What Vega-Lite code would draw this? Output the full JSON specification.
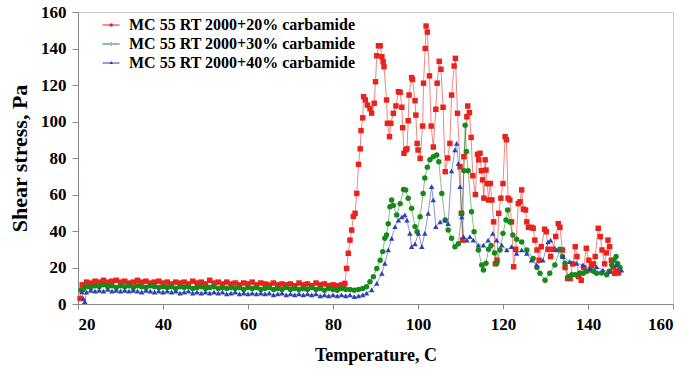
{
"$schema":"https://vega.github.io/schema/vega-lite/v6.json",
"width":595,"height":292,
"autosize":"none",
"padding":{"left":78,"top":12,"right":15,"bottom":68},
"background":"white",
"config":{"view":{"stroke":"#c8c8c8","strokeWidth":1},"font":"Liberation Serif"},
"data":{"values":[
{"s":"a","t":20.5,"v":3},{"s":"a","t":21,"v":10.5},{"s":"a","t":22,"v":12},{"s":"a","t":23,"v":11.5},{"s":"a","t":24,"v":12.5},{"s":"a","t":25,"v":12},{"s":"a","t":26,"v":13},{"s":"a","t":27,"v":12},{"s":"a","t":28,"v":12.5},{"s":"a","t":29,"v":13},{"s":"a","t":30,"v":12},{"s":"a","t":31,"v":12.5},{"s":"a","t":32,"v":11.5},{"s":"a","t":33,"v":12},{"s":"a","t":34,"v":13},{"s":"a","t":35,"v":12},{"s":"a","t":36,"v":12.5},{"s":"a","t":37,"v":11.5},{"s":"a","t":38,"v":12},{"s":"a","t":39,"v":12.5},{"s":"a","t":40,"v":11.5},{"s":"a","t":41,"v":12},{"s":"a","t":42,"v":11},{"s":"a","t":43,"v":12},{"s":"a","t":44,"v":11.5},{"s":"a","t":45,"v":12},{"s":"a","t":46,"v":11},{"s":"a","t":47,"v":12.5},{"s":"a","t":48,"v":11.5},{"s":"a","t":49,"v":12},{"s":"a","t":50,"v":11},{"s":"a","t":51,"v":13},{"s":"a","t":52,"v":11.5},{"s":"a","t":53,"v":12},{"s":"a","t":54,"v":11},{"s":"a","t":55,"v":12},{"s":"a","t":56,"v":11},{"s":"a","t":57,"v":11.5},{"s":"a","t":58,"v":10.5},{"s":"a","t":59,"v":11.5},{"s":"a","t":60,"v":11},{"s":"a","t":61,"v":12},{"s":"a","t":62,"v":10.5},{"s":"a","t":63,"v":11.5},{"s":"a","t":64,"v":11},{"s":"a","t":65,"v":10.5},{"s":"a","t":66,"v":11.5},{"s":"a","t":67,"v":10.5},{"s":"a","t":68,"v":11},{"s":"a","t":69,"v":10.5},{"s":"a","t":70,"v":11},{"s":"a","t":71,"v":10},{"s":"a","t":72,"v":11.5},{"s":"a","t":73,"v":10.5},{"s":"a","t":74,"v":11},{"s":"a","t":75,"v":10},{"s":"a","t":76,"v":11.5},{"s":"a","t":77,"v":10.5},{"s":"a","t":78,"v":11},{"s":"a","t":79,"v":10},{"s":"a","t":80,"v":10.5},{"s":"a","t":81,"v":10},{"s":"a","t":82,"v":10.5},{"s":"a","t":82.5,"v":10},
{"s":"a","t":82.8,"v":11.3},{"s":"a","t":83.2,"v":19.5},{"s":"a","t":83.6,"v":27.8},{"s":"a","t":84,"v":35},{"s":"a","t":84.4,"v":40.5},{"s":"a","t":84.8,"v":48},{"s":"a","t":85.2,"v":49.7},{"s":"a","t":85.6,"v":60.6},{"s":"a","t":86,"v":76.5},{"s":"a","t":86.4,"v":85},{"s":"a","t":86.6,"v":95},{"s":"a","t":87,"v":102},{"s":"a","t":87.2,"v":113.6},{"s":"a","t":87.6,"v":111.8},{"s":"a","t":88.1,"v":109},{"s":"a","t":88.7,"v":107},{"s":"a","t":89.1,"v":104.6},{"s":"a","t":89.7,"v":110},{"s":"a","t":90,"v":121.8},{"s":"a","t":90.3,"v":136},{"s":"a","t":90.7,"v":141.5},{"s":"a","t":91.1,"v":141.5},{"s":"a","t":91.5,"v":135.5},{"s":"a","t":91.8,"v":132.8},{"s":"a","t":92,"v":130},{"s":"a","t":92.6,"v":111.8},{"s":"a","t":92.8,"v":99},{"s":"a","t":93.3,"v":91.7},{"s":"a","t":93.6,"v":99},{"s":"a","t":94.2,"v":104.5},{"s":"a","t":94.8,"v":108.5},{"s":"a","t":95.4,"v":116.3},{"s":"a","t":95.8,"v":116},{"s":"a","t":96.2,"v":107.8},{"s":"a","t":96.4,"v":96.6},{"s":"a","t":96.7,"v":82.6},{"s":"a","t":97.1,"v":84.4},{"s":"a","t":97.4,"v":85},{"s":"a","t":97.7,"v":100.4},{"s":"a","t":97.9,"v":114.5},{"s":"a","t":98.5,"v":124},{"s":"a","t":98.7,"v":123},{"s":"a","t":99.3,"v":111.4},{"s":"a","t":99.5,"v":103.5},{"s":"a","t":99.8,"v":88},{"s":"a","t":100,"v":84.4},{"s":"a","t":100.5,"v":79.8},{"s":"a","t":101.1,"v":97.5},{"s":"a","t":101.3,"v":121},{"s":"a","t":101.7,"v":140},{"s":"a","t":101.9,"v":152.3},{"s":"a","t":102.2,"v":149},{"s":"a","t":102.7,"v":125},{"s":"a","t":103.1,"v":97.5},{"s":"a","t":103.6,"v":86},{"s":"a","t":104.2,"v":106.7},{"s":"a","t":104.5,"v":121},{"s":"a","t":105,"v":133},{"s":"a","t":105.4,"v":128.6},{"s":"a","t":105.9,"v":107.8},{"s":"a","t":106.4,"v":72.5},{"s":"a","t":107,"v":80},{"s":"a","t":107.5,"v":88},{"s":"a","t":107.9,"v":114.5},{"s":"a","t":108.5,"v":130.4},{"s":"a","t":108.8,"v":134.6},{"s":"a","t":109.3,"v":104.5},{"s":"a","t":109.9,"v":75.2},{"s":"a","t":110.2,"v":49.7},{"s":"a","t":110.5,"v":35},{"s":"a","t":110.8,"v":80.7},{"s":"a","t":111.5,"v":102.6},{"s":"a","t":111.7,"v":108.5},{"s":"a","t":112.1,"v":104.8},{"s":"a","t":112.5,"v":91.3},{"s":"a","t":112.9,"v":70.3},{"s":"a","t":113.5,"v":60},{"s":"a","t":114,"v":82},{"s":"a","t":114.3,"v":79},{"s":"a","t":114.6,"v":82.6},{"s":"a","t":114.9,"v":73},{"s":"a","t":115.2,"v":68},{"s":"a","t":115.5,"v":58},{"s":"a","t":115.8,"v":79},{"s":"a","t":116,"v":73.4},{"s":"a","t":116.3,"v":66},{"s":"a","t":116.6,"v":57},{"s":"a","t":117,"v":66},{"s":"a","t":117.4,"v":57},{"s":"a","t":117.8,"v":45},{"s":"a","t":118.2,"v":22},{"s":"a","t":118.6,"v":24},{"s":"a","t":119,"v":49.7},{"s":"a","t":119.5,"v":58},{"s":"a","t":120,"v":66},{"s":"a","t":120.5,"v":91.7},{"s":"a","t":120.8,"v":90},{"s":"a","t":121.2,"v":58},{"s":"a","t":121.6,"v":57},{"s":"a","t":122,"v":45},{"s":"a","t":122.5,"v":20.4},{"s":"a","t":123,"v":30},{"s":"a","t":123.6,"v":55},{"s":"a","t":124,"v":56},{"s":"a","t":124.4,"v":62.5},{"s":"a","t":124.8,"v":52},{"s":"a","t":125.3,"v":51.5},{"s":"a","t":125.6,"v":45},{"s":"a","t":126,"v":42},{"s":"a","t":126.7,"v":42},{"s":"a","t":127.1,"v":41.5},{"s":"a","t":127.5,"v":35},{"s":"a","t":128,"v":29.6},{"s":"a","t":128.5,"v":24},{"s":"a","t":129,"v":31.4},{"s":"a","t":129.8,"v":41},{"s":"a","t":130.2,"v":39.6},{"s":"a","t":130.6,"v":30},{"s":"a","t":131.2,"v":26},{"s":"a","t":131.8,"v":30},{"s":"a","t":132.4,"v":37},{"s":"a","t":133,"v":44},{"s":"a","t":133.4,"v":42},{"s":"a","t":134,"v":29.6},{"s":"a","t":134.6,"v":20},{"s":"a","t":135.2,"v":14},{"s":"a","t":135.8,"v":14},{"s":"a","t":136.4,"v":22},{"s":"a","t":137,"v":31.4},{"s":"a","t":137.4,"v":26},{"s":"a","t":137.8,"v":15},{"s":"a","t":138.4,"v":13},{"s":"a","t":139,"v":20},{"s":"a","t":139.6,"v":30.5},{"s":"a","t":140.2,"v":24},{"s":"a","t":140.8,"v":21},{"s":"a","t":141.3,"v":22},{"s":"a","t":141.7,"v":26},{"s":"a","t":142.4,"v":41.5},{"s":"a","t":142.9,"v":36.9},{"s":"a","t":143.3,"v":29.6},{"s":"a","t":143.9,"v":22},{"s":"a","t":144.3,"v":28},{"s":"a","t":144.7,"v":35},{"s":"a","t":145.1,"v":31.4},{"s":"a","t":145.5,"v":24},{"s":"a","t":146,"v":20},{"s":"a","t":146.3,"v":16.8},{"s":"a","t":146.8,"v":18},{"s":"a","t":147.2,"v":17},
{"s":"b","t":20.7,"v":7.7},{"s":"b","t":21.2,"v":8},{"s":"b","t":22,"v":9.5},{"s":"b","t":23,"v":9},{"s":"b","t":24,"v":10},{"s":"b","t":25,"v":9.5},{"s":"b","t":26,"v":10.5},{"s":"b","t":27,"v":9.5},{"s":"b","t":28,"v":10},{"s":"b","t":29,"v":9},{"s":"b","t":30,"v":10},{"s":"b","t":31,"v":9.5},{"s":"b","t":32,"v":10},{"s":"b","t":33,"v":9},{"s":"b","t":34,"v":10},{"s":"b","t":35,"v":9.5},{"s":"b","t":36,"v":9},{"s":"b","t":37,"v":10},{"s":"b","t":38,"v":9.5},{"s":"b","t":39,"v":9},{"s":"b","t":40,"v":9.5},{"s":"b","t":41,"v":9},{"s":"b","t":42,"v":9.5},{"s":"b","t":43,"v":8.5},{"s":"b","t":44,"v":9.5},{"s":"b","t":45,"v":9},{"s":"b","t":46,"v":9.5},{"s":"b","t":47,"v":8.5},{"s":"b","t":48,"v":9},{"s":"b","t":49,"v":9.5},{"s":"b","t":50,"v":8.5},{"s":"b","t":51,"v":9},{"s":"b","t":52,"v":9.5},{"s":"b","t":53,"v":8.5},{"s":"b","t":54,"v":9},{"s":"b","t":55,"v":8.5},{"s":"b","t":56,"v":9},{"s":"b","t":57,"v":8.5},{"s":"b","t":58,"v":9},{"s":"b","t":59,"v":8},{"s":"b","t":60,"v":9},{"s":"b","t":61,"v":8.5},{"s":"b","t":62,"v":9},{"s":"b","t":63,"v":8},{"s":"b","t":64,"v":8.5},{"s":"b","t":65,"v":9},{"s":"b","t":66,"v":8},{"s":"b","t":67,"v":8.5},{"s":"b","t":68,"v":8},{"s":"b","t":69,"v":9},{"s":"b","t":70,"v":8},{"s":"b","t":71,"v":8.5},{"s":"b","t":72,"v":8},{"s":"b","t":73,"v":8.5},{"s":"b","t":74,"v":8},{"s":"b","t":75,"v":9},{"s":"b","t":76,"v":8},{"s":"b","t":77,"v":8.5},{"s":"b","t":78,"v":7.5},{"s":"b","t":79,"v":8.5},{"s":"b","t":80,"v":8},{"s":"b","t":81,"v":7.5},{"s":"b","t":82,"v":8.5},{"s":"b","t":83,"v":8},{"s":"b","t":84,"v":8},{"s":"b","t":85,"v":7.5},{"s":"b","t":86,"v":8},{"s":"b","t":87,"v":8.5},
{"s":"b","t":87.9,"v":9.5},{"s":"b","t":88.7,"v":12.2},{"s":"b","t":89.5,"v":15},{"s":"b","t":90.3,"v":19.5},{"s":"b","t":91.1,"v":24},{"s":"b","t":91.7,"v":28.7},{"s":"b","t":92.2,"v":36},{"s":"b","t":92.6,"v":37.8},{"s":"b","t":93,"v":44},{"s":"b","t":93.4,"v":53.3},{"s":"b","t":93.8,"v":57},{"s":"b","t":94.2,"v":54},{"s":"b","t":95,"v":48.8},{"s":"b","t":95.8,"v":55},{"s":"b","t":96.6,"v":62.8},{"s":"b","t":97.1,"v":62.5},{"s":"b","t":97.7,"v":58},{"s":"b","t":98.5,"v":52.4},{"s":"b","t":99.3,"v":42.4},{"s":"b","t":99.8,"v":39.6},{"s":"b","t":100.5,"v":47.8},{"s":"b","t":101.2,"v":60.6},{"s":"b","t":101.6,"v":69},{"s":"b","t":102.2,"v":75},{"s":"b","t":102.8,"v":79},{"s":"b","t":103.6,"v":80.7},{"s":"b","t":104.4,"v":81.6},{"s":"b","t":104.9,"v":78},{"s":"b","t":105.6,"v":60.6},{"s":"b","t":106.4,"v":46},{"s":"b","t":107.1,"v":40.5},{"s":"b","t":107.9,"v":36},{"s":"b","t":108.7,"v":31.4},{"s":"b","t":109.5,"v":33},{"s":"b","t":110.3,"v":49.7},{"s":"b","t":110.8,"v":73},{"s":"b","t":111.1,"v":98},{"s":"b","t":111.4,"v":83.5},{"s":"b","t":111.8,"v":73},{"s":"b","t":112.6,"v":50.6},{"s":"b","t":113.2,"v":39.6},{"s":"b","t":114.2,"v":29.6},{"s":"b","t":115,"v":21.4},{"s":"b","t":115.4,"v":18.6},{"s":"b","t":116,"v":22.3},{"s":"b","t":116.6,"v":30},{"s":"b","t":117.2,"v":32},{"s":"b","t":118,"v":28},{"s":"b","t":118.5,"v":22.3},{"s":"b","t":119.3,"v":29.6},{"s":"b","t":120,"v":38.7},{"s":"b","t":120.7,"v":46},{"s":"b","t":121.1,"v":51.5},{"s":"b","t":121.6,"v":45},{"s":"b","t":122.3,"v":37.8},{"s":"b","t":123.2,"v":35.5},{"s":"b","t":124.4,"v":34},{"s":"b","t":125.6,"v":29.6},{"s":"b","t":127.1,"v":25},{"s":"b","t":128,"v":20},{"s":"b","t":128.7,"v":16.8},{"s":"b","t":129.9,"v":13},{"s":"b","t":131,"v":16.8},{"s":"b","t":132.2,"v":21.4},{"s":"b","t":133.4,"v":30},{"s":"b","t":134,"v":26},{"s":"b","t":134.6,"v":22.3},{"s":"b","t":135.4,"v":15},{"s":"b","t":136.2,"v":16},{"s":"b","t":137,"v":16},{"s":"b","t":138,"v":17},{"s":"b","t":138.9,"v":16.8},{"s":"b","t":139.7,"v":18},{"s":"b","t":140.5,"v":18.6},{"s":"b","t":141.3,"v":18},{"s":"b","t":142,"v":16.8},{"s":"b","t":143.2,"v":17},{"s":"b","t":144.4,"v":16},{"s":"b","t":145,"v":18},{"s":"b","t":145.6,"v":21.4},{"s":"b","t":146.1,"v":24},{"s":"b","t":146.6,"v":26},{"s":"b","t":147,"v":22},{"s":"b","t":147.5,"v":20},
{"s":"c","t":20.9,"v":6.7},{"s":"c","t":21.3,"v":3},{"s":"c","t":21.6,"v":1.3},{"s":"c","t":22,"v":6.5},{"s":"c","t":23,"v":7.5},{"s":"c","t":24,"v":7},{"s":"c","t":25,"v":7.5},{"s":"c","t":26,"v":7},{"s":"c","t":27,"v":8},{"s":"c","t":28,"v":7},{"s":"c","t":29,"v":7.5},{"s":"c","t":30,"v":7},{"s":"c","t":31,"v":7.5},{"s":"c","t":32,"v":7},{"s":"c","t":33,"v":7.5},{"s":"c","t":34,"v":7},{"s":"c","t":35,"v":6.5},{"s":"c","t":36,"v":7.5},{"s":"c","t":37,"v":7},{"s":"c","t":38,"v":6.5},{"s":"c","t":39,"v":7},{"s":"c","t":40,"v":6.5},{"s":"c","t":41,"v":7},{"s":"c","t":42,"v":6.5},{"s":"c","t":43,"v":7},{"s":"c","t":44,"v":6},{"s":"c","t":45,"v":6.5},{"s":"c","t":46,"v":7},{"s":"c","t":47,"v":6},{"s":"c","t":48,"v":6.5},{"s":"c","t":49,"v":6},{"s":"c","t":50,"v":6.5},{"s":"c","t":51,"v":6},{"s":"c","t":52,"v":6.5},{"s":"c","t":53,"v":6},{"s":"c","t":54,"v":6.5},{"s":"c","t":55,"v":5.5},{"s":"c","t":56,"v":6},{"s":"c","t":57,"v":6.5},{"s":"c","t":58,"v":5.5},{"s":"c","t":59,"v":6},{"s":"c","t":60,"v":5.5},{"s":"c","t":61,"v":6},{"s":"c","t":62,"v":5.5},{"s":"c","t":63,"v":6},{"s":"c","t":64,"v":5.5},{"s":"c","t":65,"v":6},{"s":"c","t":66,"v":5},{"s":"c","t":67,"v":5.5},{"s":"c","t":68,"v":6},{"s":"c","t":69,"v":5},{"s":"c","t":70,"v":5.5},{"s":"c","t":71,"v":5},{"s":"c","t":72,"v":5.5},{"s":"c","t":73,"v":5},{"s":"c","t":74,"v":5.5},{"s":"c","t":75,"v":5},{"s":"c","t":76,"v":5.5},{"s":"c","t":77,"v":4.5},{"s":"c","t":78,"v":5},{"s":"c","t":79,"v":4.5},{"s":"c","t":80,"v":5},{"s":"c","t":81,"v":4.5},{"s":"c","t":82,"v":5},{"s":"c","t":83,"v":4.5},{"s":"c","t":84,"v":5},{"s":"c","t":85,"v":4},{"s":"c","t":86,"v":4.5},{"s":"c","t":87,"v":5},
{"s":"c","t":87.9,"v":5.9},{"s":"c","t":89.1,"v":7.7},{"s":"c","t":90.3,"v":11.3},{"s":"c","t":91.5,"v":16.8},{"s":"c","t":92.2,"v":22.3},{"s":"c","t":93,"v":29.6},{"s":"c","t":93.8,"v":36},{"s":"c","t":94.6,"v":42.4},{"s":"c","t":95.4,"v":46},{"s":"c","t":96.2,"v":47.8},{"s":"c","t":96.9,"v":48.8},{"s":"c","t":97.4,"v":46},{"s":"c","t":98.1,"v":38.7},{"s":"c","t":98.5,"v":31.4},{"s":"c","t":99.3,"v":33},{"s":"c","t":100.1,"v":38.7},{"s":"c","t":100.9,"v":31.4},{"s":"c","t":101.6,"v":38.7},{"s":"c","t":102.4,"v":49.7},{"s":"c","t":103.2,"v":64.3},{"s":"c","t":103.6,"v":57},{"s":"c","t":104.2,"v":42.4},{"s":"c","t":105.2,"v":45},{"s":"c","t":106.4,"v":46},{"s":"c","t":107.1,"v":44},{"s":"c","t":107.9,"v":73},{"s":"c","t":108.7,"v":84.4},{"s":"c","t":109.1,"v":88},{"s":"c","t":109.5,"v":77},{"s":"c","t":109.9,"v":64.3},{"s":"c","t":110.3,"v":47.8},{"s":"c","t":110.7,"v":36.9},{"s":"c","t":111.5,"v":35},{"s":"c","t":112.2,"v":36.9},{"s":"c","t":113,"v":35},{"s":"c","t":114.2,"v":32.3},{"s":"c","t":115.4,"v":32.3},{"s":"c","t":116.5,"v":35},{"s":"c","t":117.6,"v":38.7},{"s":"c","t":118.5,"v":35},{"s":"c","t":119.7,"v":32.3},{"s":"c","t":120.9,"v":29.6},{"s":"c","t":122,"v":31.4},{"s":"c","t":123.2,"v":27.8},{"s":"c","t":124.4,"v":29.6},{"s":"c","t":125.6,"v":27.8},{"s":"c","t":126.7,"v":24},{"s":"c","t":127.9,"v":21.4},{"s":"c","t":129.4,"v":24},{"s":"c","t":130.6,"v":34},{"s":"c","t":131.2,"v":35},{"s":"c","t":132.6,"v":29.6},{"s":"c","t":134.1,"v":26},{"s":"c","t":135.7,"v":23.2},{"s":"c","t":137.3,"v":22.3},{"s":"c","t":138.8,"v":21.4},{"s":"c","t":140.4,"v":19.5},{"s":"c","t":142,"v":20.4},{"s":"c","t":143.5,"v":18.6},{"s":"c","t":145.1,"v":17.7},{"s":"c","t":146.7,"v":21.4},{"s":"c","t":147.9,"v":18.6}
]},
"encoding":{
"x":{"field":"t","type":"quantitative","scale":{"domain":[20,160],"nice":false,"zero":false},
"axis":{"values":[20,40,60,80,100,120,140,160],"grid":false,"title":"Temperature, C","titleFont":"Liberation Serif","titleFontSize":18,"titleFontWeight":"bold","titleColor":"black","titlePadding":14,"labelFont":"Liberation Serif","labelFontSize":17,"labelFontWeight":"bold","labelColor":"black","labelPadding":7,"tickSize":5,"tickColor":"#888","domainColor":"#888"}},
"y":{"field":"v","type":"quantitative","scale":{"domain":[0,160],"nice":false},
"axis":{"values":[0,20,40,60,80,100,120,140,160],"grid":false,"title":"Shear stress, Pa","titleFont":"Liberation Serif","titleFontSize":22,"titleFontWeight":"bold","titleColor":"black","titlePadding":9,"labelFont":"Liberation Serif","labelFontSize":17,"labelFontWeight":"bold","labelColor":"black","labelPadding":6,"tickSize":6,"tickColor":"#888","domainColor":"#888"}}
},
"layer":[
{"mark":{"type":"line","strokeWidth":1,"opacity":0.55},
 "encoding":{"color":{"field":"s","type":"nominal","scale":{"domain":["a","b","c"],"range":["#e8231c","#17891a","#3040b0"]},"legend":null},"detail":{"field":"s"}}},
{"mark":{"type":"point","filled":true,"opacity":1,"size":30},
 "encoding":{"color":{"field":"s","type":"nominal","scale":{"domain":["a","b","c"],"range":["#e8231c","#17891a","#3040b0"]},"legend":null},
 "shape":{"field":"s","type":"nominal","scale":{"domain":["a","b","c"],"range":["square","circle","triangle-up"]},"legend":null}}},
{"transform":[{"filter":"datum.t < 0"}],
 "mark":{"type":"point","filled":true,"opacity":1},
 "encoding":{"color":{"field":"s","type":"nominal","scale":{"domain":["a","b","c"],"range":["#e8231c","#17891a","#3040b0"]},
   "legend":{"orient":"none","legendX":22,"legendY":5,"title":null,"padding":0,"symbolSize":100,"symbolStrokeWidth":0,"labelOffset":13,"rowPadding":3,"labelFont":"Liberation Serif","labelFontSize":16,"labelFontWeight":"bold","labelColor":"black","labelLimit":400,
   "labelExpr":"datum.value == 'a' ? 'MC 55 RT 2000+20% carbamide' : datum.value == 'b' ? 'MC 55 RT 2000+30% carbamide' : 'MC 55 RT 2000+40% carbamide'"}},
  "shape":{"field":"s","type":"nominal","scale":{"domain":["a","b","c"],"range":["M-1.1,-0.1H2.3V0.1H-1.1ZM0.35,-0.3H0.95V0.3H0.35Z","M-1.1,-0.1H2.3V0.1H-1.1ZM0.35,0A0.3,0.3,0,1,0,0.95,0A0.3,0.3,0,1,0,0.35,0Z","M-1.1,-0.1H2.3V0.1H-1.1ZM0.65,-0.38L0.98,0.22H0.32Z"]}}}}
],
"resolve":{"scale":{"color":"independent","shape":"independent"},"legend":{"color":"independent","shape":"independent"}}
}
